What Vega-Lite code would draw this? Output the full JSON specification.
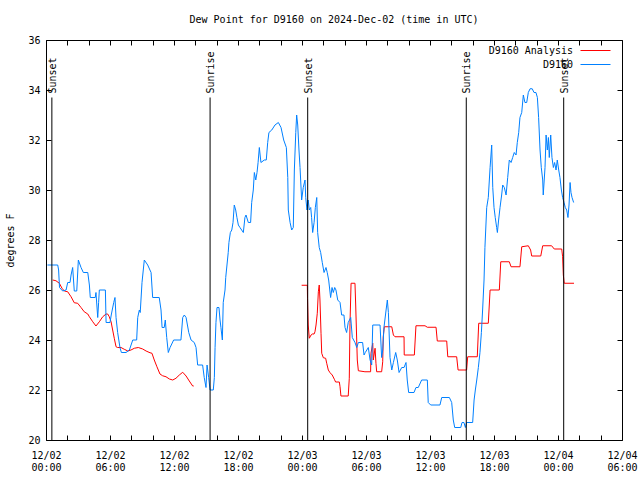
{
  "$schema": "https://vega.github.io/schema/vega-lite/v6.json",
  "width": 576,
  "height": 400,
  "autosize": "none",
  "padding": {"left": 46, "top": 40, "right": 18, "bottom": 40},
  "background": "white",
  "title": {"text": "Dew Point for D9160 on 2024-Dec-02 (time in UTC)", "font": "DejaVu Sans Mono", "fontSize": 10, "fontWeight": "normal", "color": "black", "anchor": "middle", "offset": 10},
  "config": {
    "font": "DejaVu Sans Mono",
    "view": {"stroke": "black", "strokeWidth": 1},
    "axis": {"labelFont": "DejaVu Sans Mono", "labelFontSize": 10, "labelColor": "black", "titleFont": "DejaVu Sans Mono", "titleFontSize": 10, "titleFontWeight": "normal", "titleColor": "black", "grid": false, "domain": false, "tickColor": "black", "tickSize": -5, "tickWidth": 1}
  },
  "datasets": {
    "ev": [
      {"t": "2024-12-02T00:33:00Z", "e": "Sunset"},
      {"t": "2024-12-02T15:23:00Z", "e": "Sunrise"},
      {"t": "2024-12-03T00:32:00Z", "e": "Sunset"},
      {"t": "2024-12-03T15:24:00Z", "e": "Sunrise"},
      {"t": "2024-12-04T00:32:00Z", "e": "Sunset"}
    ],
    "obs": [
      {"s":"D9160 Analysis","g":1,"t":"2024-12-02T00:38:00Z","v":26.4},
      {"s":"D9160 Analysis","g":1,"t":"2024-12-02T00:56:00Z","v":26.37},
      {"s":"D9160 Analysis","g":1,"t":"2024-12-02T01:15:00Z","v":26.27},
      {"s":"D9160 Analysis","g":1,"t":"2024-12-02T01:30:00Z","v":26.07},
      {"s":"D9160 Analysis","g":1,"t":"2024-12-02T01:43:00Z","v":25.96},
      {"s":"D9160 Analysis","g":1,"t":"2024-12-02T02:02:00Z","v":25.93},
      {"s":"D9160 Analysis","g":1,"t":"2024-12-02T02:21:00Z","v":25.73},
      {"s":"D9160 Analysis","g":1,"t":"2024-12-02T02:39:00Z","v":25.49},
      {"s":"D9160 Analysis","g":1,"t":"2024-12-02T02:58:00Z","v":25.47},
      {"s":"D9160 Analysis","g":1,"t":"2024-12-02T03:17:00Z","v":25.3},
      {"s":"D9160 Analysis","g":1,"t":"2024-12-02T03:35:00Z","v":25.13},
      {"s":"D9160 Analysis","g":1,"t":"2024-12-02T03:55:00Z","v":25.04},
      {"s":"D9160 Analysis","g":1,"t":"2024-12-02T04:04:00Z","v":24.93},
      {"s":"D9160 Analysis","g":1,"t":"2024-12-02T04:23:00Z","v":24.73},
      {"s":"D9160 Analysis","g":1,"t":"2024-12-02T04:41:00Z","v":24.56},
      {"s":"D9160 Analysis","g":1,"t":"2024-12-02T05:00:00Z","v":24.73},
      {"s":"D9160 Analysis","g":1,"t":"2024-12-02T05:19:00Z","v":24.93},
      {"s":"D9160 Analysis","g":1,"t":"2024-12-02T05:38:00Z","v":25.04},
      {"s":"D9160 Analysis","g":1,"t":"2024-12-02T05:47:00Z","v":25.04},
      {"s":"D9160 Analysis","g":1,"t":"2024-12-02T05:56:00Z","v":24.93},
      {"s":"D9160 Analysis","g":1,"t":"2024-12-02T06:06:00Z","v":24.73},
      {"s":"D9160 Analysis","g":1,"t":"2024-12-02T06:15:00Z","v":24.4},
      {"s":"D9160 Analysis","g":1,"t":"2024-12-02T06:24:00Z","v":24.07},
      {"s":"D9160 Analysis","g":1,"t":"2024-12-02T06:34:00Z","v":23.73},
      {"s":"D9160 Analysis","g":1,"t":"2024-12-02T06:43:00Z","v":23.7},
      {"s":"D9160 Analysis","g":1,"t":"2024-12-02T07:02:00Z","v":23.7},
      {"s":"D9160 Analysis","g":1,"t":"2024-12-02T07:20:00Z","v":23.63},
      {"s":"D9160 Analysis","g":1,"t":"2024-12-02T07:40:00Z","v":23.56},
      {"s":"D9160 Analysis","g":1,"t":"2024-12-02T07:58:00Z","v":23.6},
      {"s":"D9160 Analysis","g":1,"t":"2024-12-02T08:17:00Z","v":23.67},
      {"s":"D9160 Analysis","g":1,"t":"2024-12-02T08:39:00Z","v":23.7},
      {"s":"D9160 Analysis","g":1,"t":"2024-12-02T09:04:00Z","v":23.64},
      {"s":"D9160 Analysis","g":1,"t":"2024-12-02T09:23:00Z","v":23.56},
      {"s":"D9160 Analysis","g":1,"t":"2024-12-02T09:45:00Z","v":23.49},
      {"s":"D9160 Analysis","g":1,"t":"2024-12-02T09:56:00Z","v":23.47},
      {"s":"D9160 Analysis","g":1,"t":"2024-12-02T10:09:00Z","v":23.2},
      {"s":"D9160 Analysis","g":1,"t":"2024-12-02T10:24:00Z","v":22.93},
      {"s":"D9160 Analysis","g":1,"t":"2024-12-02T10:41:00Z","v":22.64},
      {"s":"D9160 Analysis","g":1,"t":"2024-12-02T10:56:00Z","v":22.57},
      {"s":"D9160 Analysis","g":1,"t":"2024-12-02T11:15:00Z","v":22.53},
      {"s":"D9160 Analysis","g":1,"t":"2024-12-02T11:34:00Z","v":22.44},
      {"s":"D9160 Analysis","g":1,"t":"2024-12-02T11:53:00Z","v":22.4},
      {"s":"D9160 Analysis","g":1,"t":"2024-12-02T12:11:00Z","v":22.47},
      {"s":"D9160 Analysis","g":1,"t":"2024-12-02T12:30:00Z","v":22.6},
      {"s":"D9160 Analysis","g":1,"t":"2024-12-02T12:49:00Z","v":22.71},
      {"s":"D9160 Analysis","g":1,"t":"2024-12-02T13:08:00Z","v":22.56},
      {"s":"D9160 Analysis","g":1,"t":"2024-12-02T13:26:00Z","v":22.36},
      {"s":"D9160 Analysis","g":1,"t":"2024-12-02T13:45:00Z","v":22.16},
      {"s":"D9160 Analysis","g":1,"t":"2024-12-02T13:51:00Z","v":22.16},
      {"s":"D9160 Analysis","g":2,"t":"2024-12-02T23:58:00Z","v":26.19},
      {"s":"D9160 Analysis","g":2,"t":"2024-12-03T00:30:00Z","v":26.19},
      {"s":"D9160 Analysis","g":2,"t":"2024-12-03T00:31:00Z","v":25.67},
      {"s":"D9160 Analysis","g":2,"t":"2024-12-03T00:35:00Z","v":24.6},
      {"s":"D9160 Analysis","g":2,"t":"2024-12-03T00:41:00Z","v":24.07},
      {"s":"D9160 Analysis","g":2,"t":"2024-12-03T00:51:00Z","v":24.2},
      {"s":"D9160 Analysis","g":2,"t":"2024-12-03T00:58:00Z","v":24.24},
      {"s":"D9160 Analysis","g":2,"t":"2024-12-03T01:08:00Z","v":24.24},
      {"s":"D9160 Analysis","g":2,"t":"2024-12-03T01:13:00Z","v":24.33},
      {"s":"D9160 Analysis","g":2,"t":"2024-12-03T01:19:00Z","v":24.6},
      {"s":"D9160 Analysis","g":2,"t":"2024-12-03T01:26:00Z","v":25.07},
      {"s":"D9160 Analysis","g":2,"t":"2024-12-03T01:32:00Z","v":25.93},
      {"s":"D9160 Analysis","g":2,"t":"2024-12-03T01:37:00Z","v":26.2},
      {"s":"D9160 Analysis","g":2,"t":"2024-12-03T01:41:00Z","v":25.6},
      {"s":"D9160 Analysis","g":2,"t":"2024-12-03T01:47:00Z","v":24.27},
      {"s":"D9160 Analysis","g":2,"t":"2024-12-03T01:51:00Z","v":23.47},
      {"s":"D9160 Analysis","g":2,"t":"2024-12-03T02:00:00Z","v":23.29},
      {"s":"D9160 Analysis","g":2,"t":"2024-12-03T02:13:00Z","v":23.27},
      {"s":"D9160 Analysis","g":2,"t":"2024-12-03T02:19:00Z","v":23.07},
      {"s":"D9160 Analysis","g":2,"t":"2024-12-03T02:28:00Z","v":22.8},
      {"s":"D9160 Analysis","g":2,"t":"2024-12-03T02:38:00Z","v":22.69},
      {"s":"D9160 Analysis","g":2,"t":"2024-12-03T02:50:00Z","v":22.6},
      {"s":"D9160 Analysis","g":2,"t":"2024-12-03T03:02:00Z","v":22.43},
      {"s":"D9160 Analysis","g":2,"t":"2024-12-03T03:09:00Z","v":22.32},
      {"s":"D9160 Analysis","g":2,"t":"2024-12-03T03:30:00Z","v":22.32},
      {"s":"D9160 Analysis","g":2,"t":"2024-12-03T03:34:00Z","v":22.13},
      {"s":"D9160 Analysis","g":2,"t":"2024-12-03T03:39:00Z","v":21.76},
      {"s":"D9160 Analysis","g":2,"t":"2024-12-03T04:20:00Z","v":21.76},
      {"s":"D9160 Analysis","g":2,"t":"2024-12-03T04:26:00Z","v":22.47},
      {"s":"D9160 Analysis","g":2,"t":"2024-12-03T04:30:00Z","v":24.67},
      {"s":"D9160 Analysis","g":2,"t":"2024-12-03T04:36:00Z","v":26.27},
      {"s":"D9160 Analysis","g":2,"t":"2024-12-03T04:58:00Z","v":26.27},
      {"s":"D9160 Analysis","g":2,"t":"2024-12-03T05:02:00Z","v":25.4},
      {"s":"D9160 Analysis","g":2,"t":"2024-12-03T05:11:00Z","v":23.2},
      {"s":"D9160 Analysis","g":2,"t":"2024-12-03T05:17:00Z","v":22.77},
      {"s":"D9160 Analysis","g":2,"t":"2024-12-03T05:54:00Z","v":22.73},
      {"s":"D9160 Analysis","g":2,"t":"2024-12-03T06:26:00Z","v":22.73},
      {"s":"D9160 Analysis","g":2,"t":"2024-12-03T06:28:00Z","v":23.47},
      {"s":"D9160 Analysis","g":2,"t":"2024-12-03T06:38:00Z","v":23.87},
      {"s":"D9160 Analysis","g":2,"t":"2024-12-03T06:41:00Z","v":23.2},
      {"s":"D9160 Analysis","g":2,"t":"2024-12-03T06:51:00Z","v":23.67},
      {"s":"D9160 Analysis","g":2,"t":"2024-12-03T06:56:00Z","v":23.07},
      {"s":"D9160 Analysis","g":2,"t":"2024-12-03T07:00:00Z","v":22.73},
      {"s":"D9160 Analysis","g":2,"t":"2024-12-03T07:28:00Z","v":22.73},
      {"s":"D9160 Analysis","g":2,"t":"2024-12-03T07:34:00Z","v":23.13},
      {"s":"D9160 Analysis","g":2,"t":"2024-12-03T07:37:00Z","v":24.13},
      {"s":"D9160 Analysis","g":2,"t":"2024-12-03T07:43:00Z","v":24.53},
      {"s":"D9160 Analysis","g":2,"t":"2024-12-03T08:25:00Z","v":24.53},
      {"s":"D9160 Analysis","g":2,"t":"2024-12-03T08:34:00Z","v":24.2},
      {"s":"D9160 Analysis","g":2,"t":"2024-12-03T08:43:00Z","v":24.13},
      {"s":"D9160 Analysis","g":2,"t":"2024-12-03T09:34:00Z","v":24.13},
      {"s":"D9160 Analysis","g":2,"t":"2024-12-03T09:35:00Z","v":23.4},
      {"s":"D9160 Analysis","g":2,"t":"2024-12-03T10:32:00Z","v":23.4},
      {"s":"D9160 Analysis","g":2,"t":"2024-12-03T10:41:00Z","v":24.57},
      {"s":"D9160 Analysis","g":2,"t":"2024-12-03T11:32:00Z","v":24.57},
      {"s":"D9160 Analysis","g":2,"t":"2024-12-03T11:45:00Z","v":24.51},
      {"s":"D9160 Analysis","g":2,"t":"2024-12-03T12:34:00Z","v":24.51},
      {"s":"D9160 Analysis","g":2,"t":"2024-12-03T12:41:00Z","v":23.96},
      {"s":"D9160 Analysis","g":2,"t":"2024-12-03T13:34:00Z","v":23.96},
      {"s":"D9160 Analysis","g":2,"t":"2024-12-03T13:40:00Z","v":23.33},
      {"s":"D9160 Analysis","g":2,"t":"2024-12-03T14:30:00Z","v":23.33},
      {"s":"D9160 Analysis","g":2,"t":"2024-12-03T14:38:00Z","v":22.8},
      {"s":"D9160 Analysis","g":2,"t":"2024-12-03T15:26:00Z","v":22.8},
      {"s":"D9160 Analysis","g":2,"t":"2024-12-03T15:32:00Z","v":23.33},
      {"s":"D9160 Analysis","g":2,"t":"2024-12-03T16:26:00Z","v":23.33},
      {"s":"D9160 Analysis","g":2,"t":"2024-12-03T16:34:00Z","v":24.67},
      {"s":"D9160 Analysis","g":2,"t":"2024-12-03T17:28:00Z","v":24.67},
      {"s":"D9160 Analysis","g":2,"t":"2024-12-03T17:38:00Z","v":26.0},
      {"s":"D9160 Analysis","g":2,"t":"2024-12-03T18:30:00Z","v":26.0},
      {"s":"D9160 Analysis","g":2,"t":"2024-12-03T18:38:00Z","v":27.13},
      {"s":"D9160 Analysis","g":2,"t":"2024-12-03T19:26:00Z","v":27.13},
      {"s":"D9160 Analysis","g":2,"t":"2024-12-03T19:36:00Z","v":26.93},
      {"s":"D9160 Analysis","g":2,"t":"2024-12-03T20:26:00Z","v":26.93},
      {"s":"D9160 Analysis","g":2,"t":"2024-12-03T20:36:00Z","v":27.73},
      {"s":"D9160 Analysis","g":2,"t":"2024-12-03T21:13:00Z","v":27.77},
      {"s":"D9160 Analysis","g":2,"t":"2024-12-03T21:26:00Z","v":27.6},
      {"s":"D9160 Analysis","g":2,"t":"2024-12-03T21:32:00Z","v":27.36},
      {"s":"D9160 Analysis","g":2,"t":"2024-12-03T22:23:00Z","v":27.36},
      {"s":"D9160 Analysis","g":2,"t":"2024-12-03T22:34:00Z","v":27.77},
      {"s":"D9160 Analysis","g":2,"t":"2024-12-03T23:24:00Z","v":27.77},
      {"s":"D9160 Analysis","g":2,"t":"2024-12-03T23:39:00Z","v":27.64},
      {"s":"D9160 Analysis","g":2,"t":"2024-12-04T00:21:00Z","v":27.64},
      {"s":"D9160 Analysis","g":2,"t":"2024-12-04T00:26:00Z","v":27.33},
      {"s":"D9160 Analysis","g":2,"t":"2024-12-04T00:30:00Z","v":26.6},
      {"s":"D9160 Analysis","g":2,"t":"2024-12-04T00:35:00Z","v":26.27},
      {"s":"D9160 Analysis","g":2,"t":"2024-12-04T01:30:00Z","v":26.27},
      {"s":"D9160","g":1,"t":"2024-12-02T00:08:00Z","v":27.0},
      {"s":"D9160","g":1,"t":"2024-12-02T01:06:00Z","v":27.0},
      {"s":"D9160","g":1,"t":"2024-12-02T01:11:00Z","v":26.8},
      {"s":"D9160","g":1,"t":"2024-12-02T01:16:00Z","v":26.1},
      {"s":"D9160","g":1,"t":"2024-12-02T01:34:00Z","v":25.96},
      {"s":"D9160","g":1,"t":"2024-12-02T01:53:00Z","v":26.0},
      {"s":"D9160","g":1,"t":"2024-12-02T02:02:00Z","v":26.3},
      {"s":"D9160","g":1,"t":"2024-12-02T02:15:00Z","v":26.3},
      {"s":"D9160","g":1,"t":"2024-12-02T02:21:00Z","v":26.6},
      {"s":"D9160","g":1,"t":"2024-12-02T02:30:00Z","v":26.9},
      {"s":"D9160","g":1,"t":"2024-12-02T02:39:00Z","v":25.96},
      {"s":"D9160","g":1,"t":"2024-12-02T02:53:00Z","v":25.96},
      {"s":"D9160","g":1,"t":"2024-12-02T03:02:00Z","v":27.2},
      {"s":"D9160","g":1,"t":"2024-12-02T03:17:00Z","v":26.9},
      {"s":"D9160","g":1,"t":"2024-12-02T03:30:00Z","v":26.7},
      {"s":"D9160","g":1,"t":"2024-12-02T03:55:00Z","v":26.7},
      {"s":"D9160","g":1,"t":"2024-12-02T04:04:00Z","v":26.2},
      {"s":"D9160","g":1,"t":"2024-12-02T04:09:00Z","v":25.7},
      {"s":"D9160","g":1,"t":"2024-12-02T04:37:00Z","v":25.7},
      {"s":"D9160","g":1,"t":"2024-12-02T04:41:00Z","v":25.9},
      {"s":"D9160","g":1,"t":"2024-12-02T04:51:00Z","v":24.9},
      {"s":"D9160","g":1,"t":"2024-12-02T04:56:00Z","v":25.5},
      {"s":"D9160","g":1,"t":"2024-12-02T05:00:00Z","v":26.0},
      {"s":"D9160","g":1,"t":"2024-12-02T05:34:00Z","v":26.0},
      {"s":"D9160","g":1,"t":"2024-12-02T05:38:00Z","v":24.7},
      {"s":"D9160","g":1,"t":"2024-12-02T06:00:00Z","v":24.7},
      {"s":"D9160","g":1,"t":"2024-12-02T06:07:00Z","v":25.0},
      {"s":"D9160","g":1,"t":"2024-12-02T06:21:00Z","v":25.5},
      {"s":"D9160","g":1,"t":"2024-12-02T06:28:00Z","v":25.7},
      {"s":"D9160","g":1,"t":"2024-12-02T06:34:00Z","v":24.9},
      {"s":"D9160","g":1,"t":"2024-12-02T06:43:00Z","v":24.3},
      {"s":"D9160","g":1,"t":"2024-12-02T06:56:00Z","v":23.7},
      {"s":"D9160","g":1,"t":"2024-12-02T07:04:00Z","v":23.5},
      {"s":"D9160","g":1,"t":"2024-12-02T07:30:00Z","v":23.5},
      {"s":"D9160","g":1,"t":"2024-12-02T07:49:00Z","v":23.6},
      {"s":"D9160","g":1,"t":"2024-12-02T08:08:00Z","v":24.0},
      {"s":"D9160","g":1,"t":"2024-12-02T08:30:00Z","v":24.0},
      {"s":"D9160","g":1,"t":"2024-12-02T08:36:00Z","v":24.9},
      {"s":"D9160","g":1,"t":"2024-12-02T08:45:00Z","v":25.2},
      {"s":"D9160","g":1,"t":"2024-12-02T08:50:00Z","v":25.1},
      {"s":"D9160","g":1,"t":"2024-12-02T09:00:00Z","v":26.3},
      {"s":"D9160","g":1,"t":"2024-12-02T09:13:00Z","v":27.2},
      {"s":"D9160","g":1,"t":"2024-12-02T09:32:00Z","v":27.0},
      {"s":"D9160","g":1,"t":"2024-12-02T09:51:00Z","v":26.7},
      {"s":"D9160","g":1,"t":"2024-12-02T10:00:00Z","v":25.7},
      {"s":"D9160","g":1,"t":"2024-12-02T10:37:00Z","v":25.7},
      {"s":"D9160","g":1,"t":"2024-12-02T10:47:00Z","v":25.2},
      {"s":"D9160","g":1,"t":"2024-12-02T10:53:00Z","v":24.5},
      {"s":"D9160","g":1,"t":"2024-12-02T11:05:00Z","v":24.5},
      {"s":"D9160","g":1,"t":"2024-12-02T11:11:00Z","v":24.8},
      {"s":"D9160","g":1,"t":"2024-12-02T11:19:00Z","v":24.1},
      {"s":"D9160","g":1,"t":"2024-12-02T11:28:00Z","v":23.5},
      {"s":"D9160","g":1,"t":"2024-12-02T11:38:00Z","v":23.7},
      {"s":"D9160","g":1,"t":"2024-12-02T11:58:00Z","v":24.0},
      {"s":"D9160","g":1,"t":"2024-12-02T12:39:00Z","v":24.0},
      {"s":"D9160","g":1,"t":"2024-12-02T12:49:00Z","v":24.9},
      {"s":"D9160","g":1,"t":"2024-12-02T12:58:00Z","v":25.0},
      {"s":"D9160","g":1,"t":"2024-12-02T13:08:00Z","v":24.9},
      {"s":"D9160","g":1,"t":"2024-12-02T13:23:00Z","v":24.3},
      {"s":"D9160","g":1,"t":"2024-12-02T13:36:00Z","v":24.0},
      {"s":"D9160","g":1,"t":"2024-12-02T13:54:00Z","v":23.9},
      {"s":"D9160","g":1,"t":"2024-12-02T14:04:00Z","v":23.7},
      {"s":"D9160","g":1,"t":"2024-12-02T14:13:00Z","v":23.0},
      {"s":"D9160","g":1,"t":"2024-12-02T14:41:00Z","v":23.0},
      {"s":"D9160","g":1,"t":"2024-12-02T14:50:00Z","v":22.5},
      {"s":"D9160","g":1,"t":"2024-12-02T15:00:00Z","v":22.1},
      {"s":"D9160","g":1,"t":"2024-12-02T15:06:00Z","v":23.0},
      {"s":"D9160","g":1,"t":"2024-12-02T15:15:00Z","v":22.5},
      {"s":"D9160","g":1,"t":"2024-12-02T15:23:00Z","v":22.0},
      {"s":"D9160","g":1,"t":"2024-12-02T15:41:00Z","v":22.0},
      {"s":"D9160","g":1,"t":"2024-12-02T15:47:00Z","v":22.5},
      {"s":"D9160","g":1,"t":"2024-12-02T15:51:00Z","v":23.7},
      {"s":"D9160","g":1,"t":"2024-12-02T15:56:00Z","v":24.7},
      {"s":"D9160","g":1,"t":"2024-12-02T16:02:00Z","v":25.3},
      {"s":"D9160","g":1,"t":"2024-12-02T16:13:00Z","v":25.3},
      {"s":"D9160","g":1,"t":"2024-12-02T16:19:00Z","v":24.8},
      {"s":"D9160","g":1,"t":"2024-12-02T16:24:00Z","v":24.5},
      {"s":"D9160","g":1,"t":"2024-12-02T16:32:00Z","v":24.0},
      {"s":"D9160","g":1,"t":"2024-12-02T16:37:00Z","v":25.5},
      {"s":"D9160","g":1,"t":"2024-12-02T16:47:00Z","v":26.0},
      {"s":"D9160","g":1,"t":"2024-12-02T16:51:00Z","v":26.5},
      {"s":"D9160","g":1,"t":"2024-12-02T16:58:00Z","v":27.0},
      {"s":"D9160","g":1,"t":"2024-12-02T17:05:00Z","v":27.5},
      {"s":"D9160","g":1,"t":"2024-12-02T17:09:00Z","v":27.9},
      {"s":"D9160","g":1,"t":"2024-12-02T17:17:00Z","v":28.3},
      {"s":"D9160","g":1,"t":"2024-12-02T17:25:00Z","v":28.4},
      {"s":"D9160","g":1,"t":"2024-12-02T17:32:00Z","v":28.7},
      {"s":"D9160","g":1,"t":"2024-12-02T17:39:00Z","v":29.4},
      {"s":"D9160","g":1,"t":"2024-12-02T17:47:00Z","v":29.2},
      {"s":"D9160","g":1,"t":"2024-12-02T17:54:00Z","v":28.9},
      {"s":"D9160","g":1,"t":"2024-12-02T18:02:00Z","v":28.6},
      {"s":"D9160","g":1,"t":"2024-12-02T18:11:00Z","v":28.5},
      {"s":"D9160","g":1,"t":"2024-12-02T18:30:00Z","v":28.3},
      {"s":"D9160","g":1,"t":"2024-12-02T18:39:00Z","v":28.9},
      {"s":"D9160","g":1,"t":"2024-12-02T18:45:00Z","v":29.0},
      {"s":"D9160","g":1,"t":"2024-12-02T18:58:00Z","v":28.7},
      {"s":"D9160","g":1,"t":"2024-12-02T19:11:00Z","v":28.7},
      {"s":"D9160","g":1,"t":"2024-12-02T19:17:00Z","v":29.5},
      {"s":"D9160","g":1,"t":"2024-12-02T19:26:00Z","v":30.0},
      {"s":"D9160","g":1,"t":"2024-12-02T19:32:00Z","v":30.7},
      {"s":"D9160","g":1,"t":"2024-12-02T19:40:00Z","v":30.4},
      {"s":"D9160","g":1,"t":"2024-12-02T19:47:00Z","v":30.7},
      {"s":"D9160","g":1,"t":"2024-12-02T19:53:00Z","v":31.1},
      {"s":"D9160","g":1,"t":"2024-12-02T20:00:00Z","v":31.7},
      {"s":"D9160","g":1,"t":"2024-12-02T20:09:00Z","v":31.1},
      {"s":"D9160","g":1,"t":"2024-12-02T20:28:00Z","v":31.2},
      {"s":"D9160","g":1,"t":"2024-12-02T20:39:00Z","v":31.2},
      {"s":"D9160","g":1,"t":"2024-12-02T20:47:00Z","v":31.9},
      {"s":"D9160","g":1,"t":"2024-12-02T20:54:00Z","v":32.3},
      {"s":"D9160","g":1,"t":"2024-12-02T21:10:00Z","v":32.4},
      {"s":"D9160","g":1,"t":"2024-12-02T21:28:00Z","v":32.6},
      {"s":"D9160","g":1,"t":"2024-12-02T21:47:00Z","v":32.7},
      {"s":"D9160","g":1,"t":"2024-12-02T22:02:00Z","v":32.5},
      {"s":"D9160","g":1,"t":"2024-12-02T22:17:00Z","v":32.0},
      {"s":"D9160","g":1,"t":"2024-12-02T22:32:00Z","v":31.7},
      {"s":"D9160","g":1,"t":"2024-12-02T22:40:00Z","v":30.5},
      {"s":"D9160","g":1,"t":"2024-12-02T22:43:00Z","v":29.2},
      {"s":"D9160","g":1,"t":"2024-12-02T22:53:00Z","v":28.7},
      {"s":"D9160","g":1,"t":"2024-12-02T23:02:00Z","v":28.4},
      {"s":"D9160","g":1,"t":"2024-12-02T23:11:00Z","v":28.5},
      {"s":"D9160","g":1,"t":"2024-12-02T23:17:00Z","v":30.8},
      {"s":"D9160","g":1,"t":"2024-12-02T23:25:00Z","v":32.3},
      {"s":"D9160","g":1,"t":"2024-12-02T23:30:00Z","v":33.0},
      {"s":"D9160","g":1,"t":"2024-12-02T23:36:00Z","v":32.6},
      {"s":"D9160","g":1,"t":"2024-12-02T23:43:00Z","v":31.6},
      {"s":"D9160","g":1,"t":"2024-12-02T23:49:00Z","v":30.9},
      {"s":"D9160","g":1,"t":"2024-12-02T23:58:00Z","v":29.6},
      {"s":"D9160","g":1,"t":"2024-12-03T00:07:00Z","v":30.1},
      {"s":"D9160","g":1,"t":"2024-12-03T00:17:00Z","v":30.4},
      {"s":"D9160","g":1,"t":"2024-12-03T00:21:00Z","v":29.7},
      {"s":"D9160","g":1,"t":"2024-12-03T00:28:00Z","v":29.2},
      {"s":"D9160","g":1,"t":"2024-12-03T00:35:00Z","v":29.6},
      {"s":"D9160","g":1,"t":"2024-12-03T00:41:00Z","v":29.2},
      {"s":"D9160","g":1,"t":"2024-12-03T00:49:00Z","v":29.3},
      {"s":"D9160","g":1,"t":"2024-12-03T00:54:00Z","v":28.9},
      {"s":"D9160","g":1,"t":"2024-12-03T01:00:00Z","v":28.3},
      {"s":"D9160","g":1,"t":"2024-12-03T01:08:00Z","v":28.7},
      {"s":"D9160","g":1,"t":"2024-12-03T01:15:00Z","v":29.3},
      {"s":"D9160","g":1,"t":"2024-12-03T01:23:00Z","v":29.7},
      {"s":"D9160","g":1,"t":"2024-12-03T01:28:00Z","v":28.3},
      {"s":"D9160","g":1,"t":"2024-12-03T01:37:00Z","v":27.7},
      {"s":"D9160","g":1,"t":"2024-12-03T01:45:00Z","v":27.5},
      {"s":"D9160","g":1,"t":"2024-12-03T01:54:00Z","v":27.1},
      {"s":"D9160","g":1,"t":"2024-12-03T02:04:00Z","v":26.7},
      {"s":"D9160","g":1,"t":"2024-12-03T02:15:00Z","v":26.9},
      {"s":"D9160","g":1,"t":"2024-12-03T02:22:00Z","v":26.7},
      {"s":"D9160","g":1,"t":"2024-12-03T02:30:00Z","v":26.4},
      {"s":"D9160","g":1,"t":"2024-12-03T02:41:00Z","v":25.7},
      {"s":"D9160","g":1,"t":"2024-12-03T02:49:00Z","v":26.1},
      {"s":"D9160","g":1,"t":"2024-12-03T02:56:00Z","v":25.9},
      {"s":"D9160","g":1,"t":"2024-12-03T03:04:00Z","v":26.1},
      {"s":"D9160","g":1,"t":"2024-12-03T03:11:00Z","v":26.0},
      {"s":"D9160","g":1,"t":"2024-12-03T03:21:00Z","v":25.6},
      {"s":"D9160","g":1,"t":"2024-12-03T03:34:00Z","v":25.5},
      {"s":"D9160","g":1,"t":"2024-12-03T03:43:00Z","v":25.0},
      {"s":"D9160","g":1,"t":"2024-12-03T03:56:00Z","v":25.0},
      {"s":"D9160","g":1,"t":"2024-12-03T04:02:00Z","v":24.5},
      {"s":"D9160","g":1,"t":"2024-12-03T04:11:00Z","v":24.3},
      {"s":"D9160","g":1,"t":"2024-12-03T04:20:00Z","v":24.7},
      {"s":"D9160","g":1,"t":"2024-12-03T04:34:00Z","v":24.9},
      {"s":"D9160","g":1,"t":"2024-12-03T04:43:00Z","v":24.1},
      {"s":"D9160","g":1,"t":"2024-12-03T04:58:00Z","v":23.9},
      {"s":"D9160","g":1,"t":"2024-12-03T05:08:00Z","v":23.7},
      {"s":"D9160","g":1,"t":"2024-12-03T05:17:00Z","v":23.9},
      {"s":"D9160","g":1,"t":"2024-12-03T05:41:00Z","v":23.9},
      {"s":"D9160","g":1,"t":"2024-12-03T05:49:00Z","v":23.4},
      {"s":"D9160","g":1,"t":"2024-12-03T05:56:00Z","v":23.5},
      {"s":"D9160","g":1,"t":"2024-12-03T06:13:00Z","v":23.7},
      {"s":"D9160","g":1,"t":"2024-12-03T06:23:00Z","v":23.2},
      {"s":"D9160","g":1,"t":"2024-12-03T06:32:00Z","v":23.0},
      {"s":"D9160","g":1,"t":"2024-12-03T06:38:00Z","v":24.6},
      {"s":"D9160","g":1,"t":"2024-12-03T07:19:00Z","v":24.6},
      {"s":"D9160","g":1,"t":"2024-12-03T07:28:00Z","v":23.3},
      {"s":"D9160","g":1,"t":"2024-12-03T07:34:00Z","v":23.6},
      {"s":"D9160","g":1,"t":"2024-12-03T07:41:00Z","v":24.5},
      {"s":"D9160","g":1,"t":"2024-12-03T07:53:00Z","v":25.2},
      {"s":"D9160","g":1,"t":"2024-12-03T08:00:00Z","v":25.6},
      {"s":"D9160","g":1,"t":"2024-12-03T08:06:00Z","v":25.1},
      {"s":"D9160","g":1,"t":"2024-12-03T08:15:00Z","v":23.3},
      {"s":"D9160","g":1,"t":"2024-12-03T08:25:00Z","v":22.8},
      {"s":"D9160","g":1,"t":"2024-12-03T08:34:00Z","v":23.1},
      {"s":"D9160","g":1,"t":"2024-12-03T08:47:00Z","v":23.5},
      {"s":"D9160","g":1,"t":"2024-12-03T08:56:00Z","v":23.2},
      {"s":"D9160","g":1,"t":"2024-12-03T09:06:00Z","v":22.7},
      {"s":"D9160","g":1,"t":"2024-12-03T09:21:00Z","v":22.9},
      {"s":"D9160","g":1,"t":"2024-12-03T09:34:00Z","v":22.9},
      {"s":"D9160","g":1,"t":"2024-12-03T09:45:00Z","v":23.1},
      {"s":"D9160","g":1,"t":"2024-12-03T09:52:00Z","v":22.4},
      {"s":"D9160","g":1,"t":"2024-12-03T10:00:00Z","v":21.9},
      {"s":"D9160","g":1,"t":"2024-12-03T10:30:00Z","v":21.9},
      {"s":"D9160","g":1,"t":"2024-12-03T10:41:00Z","v":22.1},
      {"s":"D9160","g":1,"t":"2024-12-03T10:54:00Z","v":22.1},
      {"s":"D9160","g":1,"t":"2024-12-03T11:13:00Z","v":22.4},
      {"s":"D9160","g":1,"t":"2024-12-03T11:45:00Z","v":22.4},
      {"s":"D9160","g":1,"t":"2024-12-03T11:50:00Z","v":21.5},
      {"s":"D9160","g":1,"t":"2024-12-03T12:04:00Z","v":21.4},
      {"s":"D9160","g":1,"t":"2024-12-03T12:56:00Z","v":21.4},
      {"s":"D9160","g":1,"t":"2024-12-03T13:06:00Z","v":21.7},
      {"s":"D9160","g":1,"t":"2024-12-03T13:49:00Z","v":21.7},
      {"s":"D9160","g":1,"t":"2024-12-03T14:02:00Z","v":21.5},
      {"s":"D9160","g":1,"t":"2024-12-03T14:11:00Z","v":20.8},
      {"s":"D9160","g":1,"t":"2024-12-03T14:19:00Z","v":20.5},
      {"s":"D9160","g":1,"t":"2024-12-03T14:53:00Z","v":20.5},
      {"s":"D9160","g":1,"t":"2024-12-03T15:00:00Z","v":20.7},
      {"s":"D9160","g":1,"t":"2024-12-03T15:11:00Z","v":20.7},
      {"s":"D9160","g":1,"t":"2024-12-03T15:19:00Z","v":20.5},
      {"s":"D9160","g":1,"t":"2024-12-03T15:26:00Z","v":20.7},
      {"s":"D9160","g":1,"t":"2024-12-03T16:00:00Z","v":20.7},
      {"s":"D9160","g":1,"t":"2024-12-03T16:08:00Z","v":21.6},
      {"s":"D9160","g":1,"t":"2024-12-03T16:15:00Z","v":22.0},
      {"s":"D9160","g":1,"t":"2024-12-03T16:23:00Z","v":22.4},
      {"s":"D9160","g":1,"t":"2024-12-03T16:32:00Z","v":22.9},
      {"s":"D9160","g":1,"t":"2024-12-03T16:41:00Z","v":23.5},
      {"s":"D9160","g":1,"t":"2024-12-03T16:49:00Z","v":24.3},
      {"s":"D9160","g":1,"t":"2024-12-03T16:56:00Z","v":25.2},
      {"s":"D9160","g":1,"t":"2024-12-03T17:04:00Z","v":26.4},
      {"s":"D9160","g":1,"t":"2024-12-03T17:09:00Z","v":27.7},
      {"s":"D9160","g":1,"t":"2024-12-03T17:19:00Z","v":29.3},
      {"s":"D9160","g":1,"t":"2024-12-03T17:28:00Z","v":29.7},
      {"s":"D9160","g":1,"t":"2024-12-03T17:38:00Z","v":30.9},
      {"s":"D9160","g":1,"t":"2024-12-03T17:47:00Z","v":31.8},
      {"s":"D9160","g":1,"t":"2024-12-03T17:53:00Z","v":30.1},
      {"s":"D9160","g":1,"t":"2024-12-03T18:00:00Z","v":29.3},
      {"s":"D9160","g":1,"t":"2024-12-03T18:07:00Z","v":28.9},
      {"s":"D9160","g":1,"t":"2024-12-03T18:15:00Z","v":28.5},
      {"s":"D9160","g":1,"t":"2024-12-03T18:19:00Z","v":28.3},
      {"s":"D9160","g":1,"t":"2024-12-03T18:26:00Z","v":28.8},
      {"s":"D9160","g":1,"t":"2024-12-03T18:34:00Z","v":29.3},
      {"s":"D9160","g":1,"t":"2024-12-03T18:43:00Z","v":29.8},
      {"s":"D9160","g":1,"t":"2024-12-03T18:49:00Z","v":30.2},
      {"s":"D9160","g":1,"t":"2024-12-03T18:58:00Z","v":30.1},
      {"s":"D9160","g":1,"t":"2024-12-03T19:08:00Z","v":29.8},
      {"s":"D9160","g":1,"t":"2024-12-03T19:17:00Z","v":30.5},
      {"s":"D9160","g":1,"t":"2024-12-03T19:26:00Z","v":31.2},
      {"s":"D9160","g":1,"t":"2024-12-03T19:36:00Z","v":31.1},
      {"s":"D9160","g":1,"t":"2024-12-03T19:45:00Z","v":31.3},
      {"s":"D9160","g":1,"t":"2024-12-03T19:54:00Z","v":31.5},
      {"s":"D9160","g":1,"t":"2024-12-03T20:04:00Z","v":31.4},
      {"s":"D9160","g":1,"t":"2024-12-03T20:11:00Z","v":31.9},
      {"s":"D9160","g":1,"t":"2024-12-03T20:19:00Z","v":32.3},
      {"s":"D9160","g":1,"t":"2024-12-03T20:26:00Z","v":32.9},
      {"s":"D9160","g":1,"t":"2024-12-03T20:36:00Z","v":33.1},
      {"s":"D9160","g":1,"t":"2024-12-03T20:45:00Z","v":33.8},
      {"s":"D9160","g":1,"t":"2024-12-03T20:54:00Z","v":33.5},
      {"s":"D9160","g":1,"t":"2024-12-03T21:04:00Z","v":33.5},
      {"s":"D9160","g":1,"t":"2024-12-03T21:13:00Z","v":33.9},
      {"s":"D9160","g":1,"t":"2024-12-03T21:23:00Z","v":34.05},
      {"s":"D9160","g":1,"t":"2024-12-03T21:35:00Z","v":34.05},
      {"s":"D9160","g":1,"t":"2024-12-03T21:45:00Z","v":33.9},
      {"s":"D9160","g":1,"t":"2024-12-03T21:56:00Z","v":33.9},
      {"s":"D9160","g":1,"t":"2024-12-03T22:04:00Z","v":33.7},
      {"s":"D9160","g":1,"t":"2024-12-03T22:11:00Z","v":32.9},
      {"s":"D9160","g":1,"t":"2024-12-03T22:19:00Z","v":31.6},
      {"s":"D9160","g":1,"t":"2024-12-03T22:26:00Z","v":30.9},
      {"s":"D9160","g":1,"t":"2024-12-03T22:34:00Z","v":30.4},
      {"s":"D9160","g":1,"t":"2024-12-03T22:37:00Z","v":29.8},
      {"s":"D9160","g":1,"t":"2024-12-03T22:47:00Z","v":30.9},
      {"s":"D9160","g":1,"t":"2024-12-03T22:53:00Z","v":32.2},
      {"s":"D9160","g":1,"t":"2024-12-03T23:00:00Z","v":31.6},
      {"s":"D9160","g":1,"t":"2024-12-03T23:06:00Z","v":32.1},
      {"s":"D9160","g":1,"t":"2024-12-03T23:11:00Z","v":31.3},
      {"s":"D9160","g":1,"t":"2024-12-03T23:19:00Z","v":32.2},
      {"s":"D9160","g":1,"t":"2024-12-03T23:26:00Z","v":31.3},
      {"s":"D9160","g":1,"t":"2024-12-03T23:34:00Z","v":30.9},
      {"s":"D9160","g":1,"t":"2024-12-03T23:41:00Z","v":31.1},
      {"s":"D9160","g":1,"t":"2024-12-03T23:49:00Z","v":30.8},
      {"s":"D9160","g":1,"t":"2024-12-03T23:56:00Z","v":31.2},
      {"s":"D9160","g":1,"t":"2024-12-04T00:04:00Z","v":30.8},
      {"s":"D9160","g":1,"t":"2024-12-04T00:11:00Z","v":30.5},
      {"s":"D9160","g":1,"t":"2024-12-04T00:19:00Z","v":30.0},
      {"s":"D9160","g":1,"t":"2024-12-04T00:26:00Z","v":29.7},
      {"s":"D9160","g":1,"t":"2024-12-04T00:34:00Z","v":29.5},
      {"s":"D9160","g":1,"t":"2024-12-04T00:41:00Z","v":29.3},
      {"s":"D9160","g":1,"t":"2024-12-04T00:49:00Z","v":29.2},
      {"s":"D9160","g":1,"t":"2024-12-04T00:56:00Z","v":28.9},
      {"s":"D9160","g":1,"t":"2024-12-04T01:02:00Z","v":29.4},
      {"s":"D9160","g":1,"t":"2024-12-04T01:08:00Z","v":30.3},
      {"s":"D9160","g":1,"t":"2024-12-04T01:13:00Z","v":29.9},
      {"s":"D9160","g":1,"t":"2024-12-04T01:19:00Z","v":29.7},
      {"s":"D9160","g":1,"t":"2024-12-04T01:28:00Z","v":29.5}
    ]
  },
  "resolve": {"axis": {"x": "independent", "y": "independent"}},
  "layer": [
    {
      "data": {"name": "obs"},
      "mark": {"type": "line", "strokeWidth": 1, "interpolate": "linear"},
      "encoding": {
        "x": {"field": "t", "type": "temporal",
              "scale": {"type": "utc", "domain": [{"year": 2024, "month": 12, "date": 2, "hours": 0, "utc": true}, {"year": 2024, "month": 12, "date": 4, "hours": 6, "utc": true}]},
              "axis": {"orient": "bottom", "title": null, "values": [1733097600000,1733104800000,1733112000000,1733119200000,1733126400000,1733133600000,1733140800000,1733148000000,1733155200000,1733162400000,1733169600000,1733176800000,1733184000000,1733191200000,1733198400000,1733205600000,1733212800000,1733220000000,1733227200000,1733234400000,1733241600000,1733248800000,1733256000000,1733263200000,1733270400000,1733277600000,1733284800000,1733292000000], "labelExpr": "utchours(datum.value) % 6 == 0 ? [utcFormat(datum.value, '%m/%d'), utcFormat(datum.value, '%H:%M')] : ''", "labelOverlap": false, "labelFlush": false, "labelPadding": 15, "labelLineHeight": 12, "labelBaseline": "top"}},
        "y": {"field": "v", "type": "quantitative",
              "scale": {"domain": [20, 36], "nice": false, "zero": false},
              "axis": {"orient": "left", "title": "degrees F", "values": [20, 22, 24, 26, 28, 30, 32, 34, 36], "labelPadding": 11, "titlePadding": 12}},
        "color": {"field": "s", "type": "nominal",
                  "scale": {"domain": ["D9160 Analysis", "D9160"], "range": ["#ff0000", "#0080ff"]},
                  "legend": {"orient": "none", "legendX": 544, "legendY": 5, "title": null, "symbolType": "M-3,0L3,0", "symbolSize": 100, "symbolStrokeWidth": 1, "symbolFillColor": "transparent", "labelAlign": "right", "labelOffset": -28, "labelFont": "DejaVu Sans Mono", "labelFontSize": 10, "labelColor": "black", "padding": 0, "rowPadding": 3}},
        "detail": {"field": "g", "type": "nominal"}
      }
    },
    {
      "data": {"name": "ev"},
      "mark": {"type": "rule", "color": "black", "strokeWidth": 1},
      "encoding": {
        "x": {"field": "t", "type": "temporal", "axis": {"orient": "top", "title": null, "labels": false, "values": [1733097600000,1733104800000,1733112000000,1733119200000,1733126400000,1733133600000,1733140800000,1733148000000,1733155200000,1733162400000,1733169600000,1733176800000,1733184000000,1733191200000,1733198400000,1733205600000,1733212800000,1733220000000,1733227200000,1733234400000,1733241600000,1733248800000,1733256000000,1733263200000,1733270400000,1733277600000,1733284800000,1733292000000]}},
        "y": {"datum": 20, "type": "quantitative", "axis": {"orient": "right", "title": null, "labels": false, "values": [20, 22, 24, 26, 28, 30, 32, 34, 36]}},
        "y2": {"datum": 33.7}
      }
    },
    {
      "data": {"name": "ev"},
      "mark": {"type": "text", "angle": 270, "align": "left", "baseline": "middle", "font": "DejaVu Sans Mono", "fontSize": 10, "color": "black", "dy": 1},
      "encoding": {
        "x": {"field": "t", "type": "temporal", "axis": null},
        "y": {"datum": 33.86, "type": "quantitative", "axis": null},
        "text": {"field": "e"}
      }
    }
  ]
}
